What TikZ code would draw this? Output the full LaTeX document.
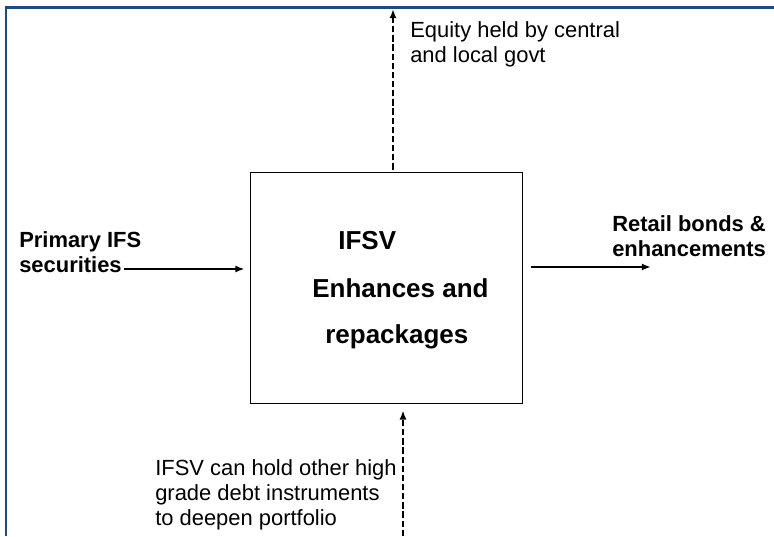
\documentclass[tikz,border=0pt]{standalone}
\usepackage{fontspec}
\setmainfont{Liberation Sans}
\usetikzlibrary{arrows.meta}
\definecolor{frameblue}{RGB}{31,73,125}

\begin{document}
\begin{tikzpicture}[
  lbl/.style={inner sep=0pt,anchor=base west,align=left,font=\fontsize{15.6}{17.8}\selectfont},
  boxtxt/.style={inner sep=0pt,anchor=base west,font=\bfseries\fontsize{18.5}{22}\selectfont},
  flow/.style={line width=1.5pt,-{Latex[length=6.5pt,width=5pt]}},
  dashflow/.style={flow,line width=1.6pt,dash pattern=on 4.5pt off 2pt}
]
\useasboundingbox (0,0) rectangle (19.35,13.4);
% page frame
\draw[frameblue,line width=1.7pt] (0.15,0) -- (0.15,13.2125) -- (19.35,13.2125);

% central vehicle
\node[draw,line width=0.6pt,inner sep=0pt,minimum width=6.8cm,minimum height=5.775cm] (ifsv) at (9.65,6.2125) {};
\node[boxtxt] (ifsvname) at (8.45,7.15) {IFSV};
\node[boxtxt] (enhance) at (7.8,5.96) {Enhances and};
\node[boxtxt] (repack) at (8.125,4.8) {repackages};

% labels (anchored on the last line)
\node[lbl,font=\bfseries\fontsize{15.6}{17.8}\selectfont] (primary) at (0.475,6.575) {Primary IFS\\securities};
\node[lbl,font=\bfseries\fontsize{15.6}{17.8}\selectfont] (retail) at (15.3,6.975) {Retail bonds \&\\enhancements};
\node[lbl] (equity) at (10.25,11.825) {Equity held by central\\and local govt};
\node[lbl] (other) at (3.875,0.27) {IFSV can hold other high\\grade debt instruments\\to deepen portfolio};

% connectors
\coordinate (primout) at (3.1,6.675);
\coordinate (retin) at (16.275,6.725);
\coordinate (eqtop) at (9.825,13.175);
\coordinate (othbot) at (10.075,0);
\draw[flow,shorten >=0.125cm] (primout) -- (primout -| ifsv.west);
\draw[flow,shorten <=0.225cm] (retin -| ifsv.east) -- (retin);
\draw[dashflow,shorten <=0.05cm] (eqtop |- ifsv.north) -- (eqtop);
\draw[dashflow,shorten >=0.175cm] (othbot) -- (othbot |- ifsv.south);
\end{tikzpicture}
\end{document}
